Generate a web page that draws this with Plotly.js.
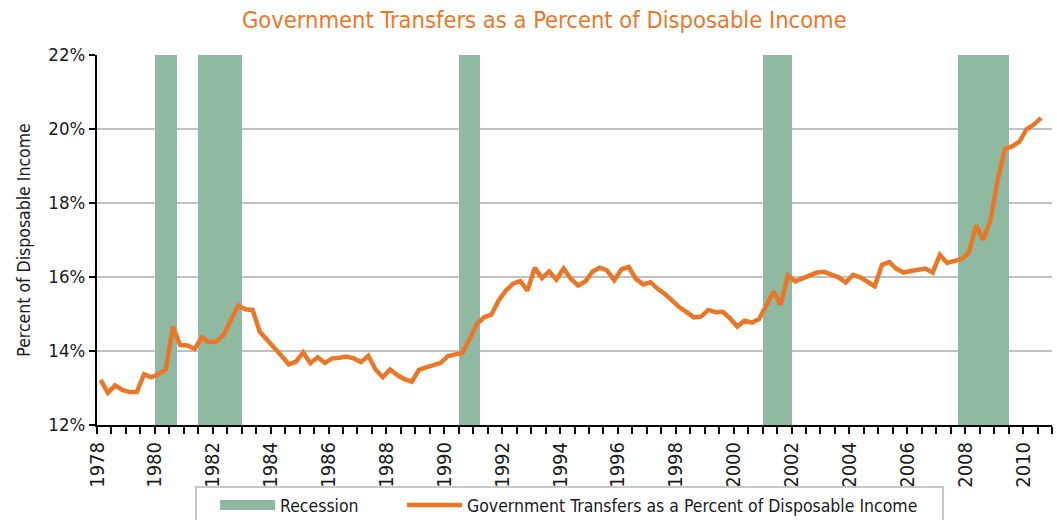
<!DOCTYPE html>
<html><head><meta charset="utf-8">
<script src="https://cdn.plot.ly/plotly-3.0.1.min.js"></script>
<style>html,body{margin:0;padding:0;background:#fff}#chart{width:1057px;height:520px}</style>
</head><body><div id="chart"></div>
<script>
// ---- data (quarterly, 1978Q1 .. 2010Q3) ----
const startYear = 1978;
const transfers = [
  13.22, 12.87, 13.07, 12.95,   // 1978
  12.89, 12.89, 13.37, 13.29,   // 1979
  13.38, 13.50, 14.66, 14.16,   // 1980
  14.15, 14.06, 14.37, 14.24,   // 1981
  14.26, 14.43, 14.84, 15.23,   // 1982
  15.13, 15.11, 14.52, 14.32,   // 1983
  14.09, 13.87, 13.64, 13.71,   // 1984
  13.96, 13.67, 13.83, 13.68,   // 1985
  13.80, 13.82, 13.85, 13.80,   // 1986
  13.70, 13.87, 13.50, 13.29,   // 1987
  13.50, 13.35, 13.24, 13.17,   // 1988
  13.49, 13.56, 13.62, 13.68,   // 1989
  13.86, 13.90, 13.95, 14.32,   // 1990
  14.73, 14.91, 14.98, 15.36,   // 1991
  15.63, 15.82, 15.89, 15.63,   // 1992
  16.25, 15.97, 16.15, 15.93,   // 1993
  16.23, 15.95, 15.77, 15.88,   // 1994
  16.15, 16.25, 16.18, 15.91,   // 1995
  16.21, 16.27, 15.95, 15.80,   // 1996
  15.86, 15.68, 15.54, 15.36,   // 1997
  15.18, 15.05, 14.91, 14.93,   // 1998
  15.11, 15.05, 15.06, 14.88,   // 1999
  14.66, 14.82, 14.77, 14.86,   // 2000
  15.21, 15.61, 15.25, 16.04,   // 2001
  15.88, 15.97, 16.06, 16.12,   // 2002
  16.14, 16.06, 15.99, 15.85,   // 2003
  16.06, 15.99, 15.86, 15.75,   // 2004
  16.33, 16.40, 16.22, 16.12,   // 2005
  16.16, 16.20, 16.23, 16.12,   // 2006
  16.60, 16.38, 16.43, 16.49,   // 2007
  16.65, 17.39, 17.01, 17.53,   // 2008
  18.63, 19.46, 19.53, 19.66,   // 2009
  20.00, 20.12, 20.30           // 2010
];
const recessionStart = [1980.0, 1981.5, 1990.5, 2001.0, 2007.75];
const recessionEnd   = [1980.75, 1983.0, 1991.25, 2002.0, 2009.5];

const yTickVals = [12, 14, 16, 18, 20, 22];
const yTickText = ['12%', '14%', '16%', '18%', '20%', '22%'];
const xTickVals = [1978,1980,1982,1984,1986,1988,1990,1992,1994,1996,1998,2000,2002,2004,2006,2008,2010];
const xTickText = ['1978','1980','1982','1984','1986','1988','1990','1992','1994','1996','1998','2000','2002','2004','2006','2008','2010'];
const yRange = [12, 22];
const xRange = [1978, 2011];

const seriesName = 'Government Transfers as a Percent of Disposable Income';
const chartTitle = 'Government Transfers as a Percent of Disposable Income';
const yTitle = 'Percent of Disposable Income';

// ---- styling ----
const FONT = '"Liberation Sans Narrow", "Arial Narrow", "DejaVu Sans Condensed", sans-serif';
const ORANGE = '#E8772A';
const GREEN = '#8FBAA1';

// quarter mid-points on a numeric year axis
const quarterTime = transfers.map((_, i) => startYear + i / 4 + 0.125);

const recessionBars = {
  type: 'bar',
  x: recessionStart.map((s, i) => (s + recessionEnd[i]) / 2),
  width: recessionStart.map((s, i) => recessionEnd[i] - s),
  base: recessionStart.map(() => yRange[0]),
  y: recessionStart.map(() => yRange[1] - yRange[0]),
  marker: { color: GREEN, line: { width: 0 } },
  showlegend: false,
  hoverinfo: 'skip'
};
const recessionLegend = {
  type: 'scatter', mode: 'lines',
  x: [null], y: [null],
  name: 'Recession',
  line: { color: GREEN, width: 14 },
  showlegend: true,
  legend: 'legend'
};
const transfersLine = {
  type: 'scatter', mode: 'lines',
  x: quarterTime, y: transfers,
  name: seriesName,
  line: { color: ORANGE, width: 4.5 },
  showlegend: true,
  legend: 'legend2'
};

// legend frame (pixel box converted to paper coordinates)
const plotL = 97, plotW = 955, plotT = 55, plotH = 370;
const toPX = px => (px - plotL) / plotW;
const toPY = py => (plotT + plotH - py) / plotH;

const legendCommon = {
  orientation: 'h', xref: 'container', yref: 'container',
  xanchor: 'left', y: 1 - 487 / 520, yanchor: 'top',
  borderwidth: 0, bgcolor: 'rgba(0,0,0,0)',
  font: { family: FONT, size: 17.5, color: '#1a1a1a' },
  itemwidth: 55
};

const layout = {
  width: 1057, height: 520,
  margin: { l: 97, r: 5, t: 55, b: 95, pad: 0, autoexpand: false },
  paper_bgcolor: '#ffffff', plot_bgcolor: '#ffffff',
  font: { family: FONT, color: '#1a1a1a' },
  title: {
    text: chartTitle,
    font: { family: FONT, size: 23.5, color: ORANGE },
    xref: 'container', yref: 'container',
    x: 0.515, xanchor: 'center', y: 1 - 20 / 520, yanchor: 'middle'
  },
  xaxis: {
    range: xRange, tickmode: 'array', tickvals: xTickVals, ticktext: xTickText,
    tickangle: -90, ticks: 'outside', ticklen: 7, tickwidth: 2, tickcolor: '#000',
    showline: true, linecolor: '#000', linewidth: 2, showgrid: false, zeroline: false,
    automargin: false,
    tickfont: { family: FONT, size: 20, color: '#1a1a1a' },
    minor: { tickmode: 'linear', tick0: 1978, dtick: 0.5, ticks: 'outside', ticklen: 7, tickwidth: 2, tickcolor: '#000', showgrid: false },
    fixedrange: true
  },
  yaxis: {
    range: yRange, tickmode: 'array', tickvals: yTickVals, ticktext: yTickText,
    ticks: 'outside', ticklen: 6, tickwidth: 2, tickcolor: '#000',
    showline: true, linecolor: '#000', linewidth: 2, automargin: false,
    showgrid: true, gridcolor: '#c0c0c0', gridwidth: 2, zeroline: false,
    tickfont: { family: FONT, size: 18.5, color: '#1a1a1a' },
    title: { text: yTitle, font: { family: FONT, size: 17.5, color: '#1a1a1a' }, standoff: 13 },
    fixedrange: true
  },
  legend: Object.assign({}, legendCommon, { x: 215 / 1057 }),
  legend2: Object.assign({}, legendCommon, { x: 402 / 1057 }),
  shapes: [{
    type: 'rect', xref: 'paper', yref: 'paper', layer: 'above',
    x0: toPX(196), x1: toPX(943), y0: toPY(487), y1: toPY(540),
    line: { color: '#c8c8c8', width: 2 }, fillcolor: 'rgba(0,0,0,0)'
  }],
  bargap: 0,
  showlegend: true
};

Plotly.newPlot('chart', [recessionBars, recessionLegend, transfersLine], layout, { displayModeBar: false, staticPlot: true });
</script>
</body></html>
